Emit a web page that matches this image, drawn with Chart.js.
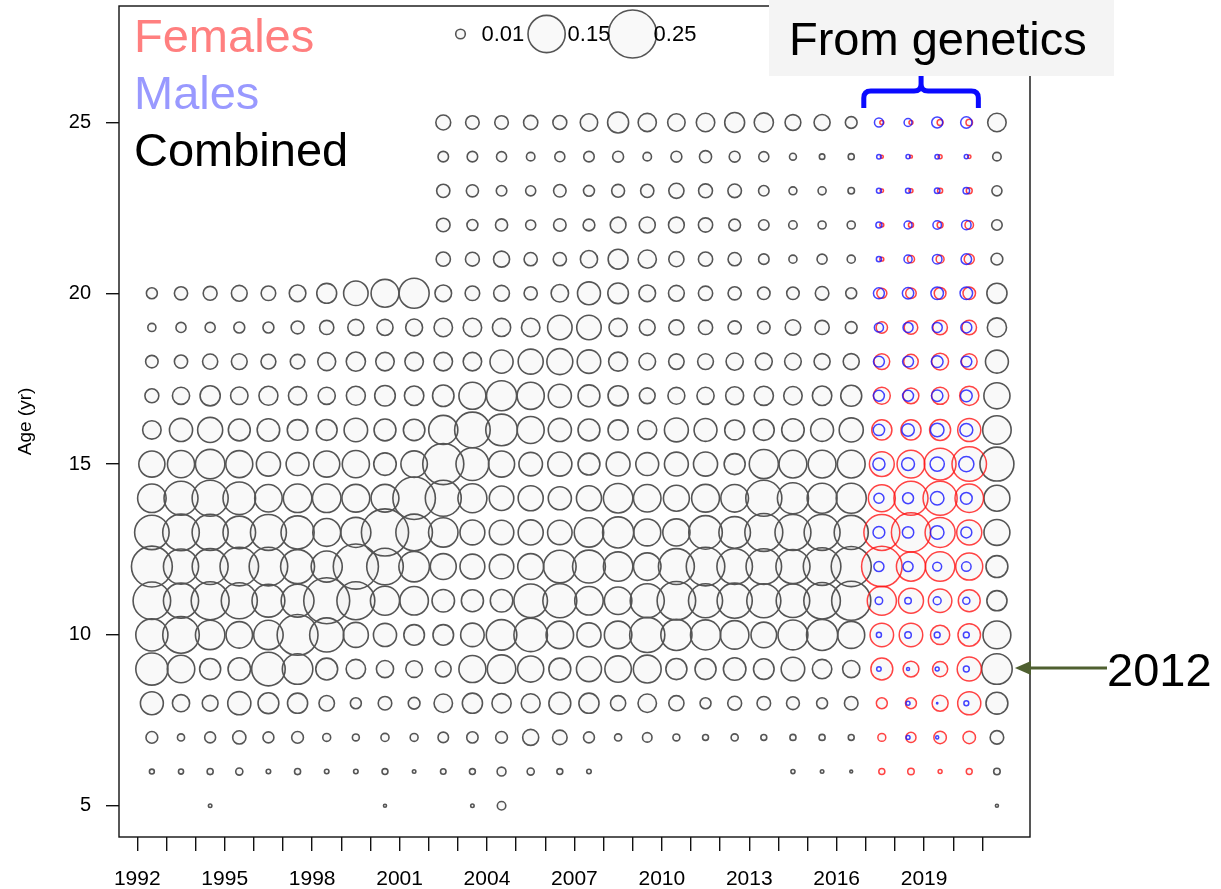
<!DOCTYPE html>
<html>
<head>
<meta charset="utf-8">
<title>Age composition by year</title>
<script src="https://cdn.jsdelivr.net/npm/chart.js@4.4.1/dist/chart.umd.min.js"></script>
<style>
  html, body { margin: 0; padding: 0; background: #ffffff; }
  #wrap { width: 1221px; height: 889px; }
</style>
</head>
<body>
<div id="wrap"><canvas id="chart" width="1221" height="889"></canvas></div>
<script>
// ---- axis values ----
const years = [1992, 1993, 1994, 1995, 1996, 1997, 1998, 1999, 2000, 2001,
               2002, 2003, 2004, 2005, 2006, 2007, 2008, 2009, 2010, 2011,
               2012, 2013, 2014, 2015, 2016, 2017, 2018, 2019, 2020, 2021];
const ages = [5, 6, 7, 8, 9, 10, 11, 12, 13, 14, 15, 16, 17, 18, 19, 20, 21, 22, 23, 24, 25];
const xTickLabels = [1992, 1995, 1998, 2001, 2004, 2007, 2010, 2013, 2016, 2019];
const yTickValues = [5, 10, 15, 20, 25];
const geneticsYears = [2017, 2018, 2019, 2020];
const sizeLegendValues = [0.01, 0.15, 0.25];

// ---- combined proportion at age, one entry per year (1992..2021) ----
const age25 = [null, null, null, null, null, null, null, null, null, null, .024, .020, .020, .022, .021, .033, .048, .036, .033, .037, .043, .040, .027, .028, .015, null, null, null, null, .037];
const age24 = [null, null, null, null, null, null, null, null, null, null, .012, .012, .011, .0078, .011, .012, .013, .0078, .013, .016, .013, .011, .0052, .0033, .004, null, null, null, null, .0078];
const age23 = [null, null, null, null, null, null, null, null, null, null, .019, .016, .012, .011, .017, .013, .018, .019, .025, .021, .020, .012, .0068, .0071, .0046, null, null, null, null, .011];
const age22 = [null, null, null, null, null, null, null, null, null, null, .020, .013, .016, .011, .017, .015, .027, .028, .027, .022, .015, .012, .0078, .0071, .0071, null, null, null, null, .012];
const age21 = [null, null, null, null, null, null, null, null, null, null, .022, .021, .028, .019, .019, .032, .043, .036, .025, .022, .019, .012, .0071, .011, .0071, null, null, null, null, .015];
const age20 = [.013, .019, .021, .027, .023, .030, .043, .065, .084, .098, .030, .023, .027, .019, .033, .057, .046, .030, .027, .022, .019, .017, .017, .020, .013, null, null, null, null, .044];
const age19 = [.0071, .011, .011, .013, .013, .018, .022, .028, .028, .031, .037, .037, .036, .037, .065, .065, .036, .027, .025, .022, .019, .017, .026, .022, .015, null, null, null, null, .040];
const age18 = [.017, .019, .025, .027, .024, .023, .035, .040, .037, .037, .037, .037, .058, .068, .073, .060, .039, .030, .026, .027, .032, .031, .030, .028, .028, null, null, null, null, .057];
const age17 = [.021, .032, .044, .033, .039, .036, .032, .039, .046, .041, .050, .079, .098, .080, .058, .052, .044, .027, .031, .032, .035, .040, .037, .041, .048, null, null, null, null, .074];
const age16 = [.037, .058, .068, .052, .055, .046, .047, .060, .052, .050, .092, .137, .108, .079, .058, .052, .044, .039, .062, .057, .043, .047, .055, .057, .063, null, null, null, null, .088];
const age15 = [.074, .080, .094, .079, .063, .057, .074, .080, .055, .076, .183, .117, .074, .060, .063, .052, .062, .057, .062, .063, .048, .092, .084, .084, .084, null, null, null, null, .125];
const age14 = [.088, .125, .141, .115, .082, .088, .088, .084, .084, .196, .140, .091, .065, .068, .058, .068, .094, .082, .073, .084, .083, .141, .105, .097, .098, null, null, null, null, .073];
const age13 = [.129, .145, .141, .115, .140, .119, .084, .098, .241, .145, .094, .067, .065, .068, .065, .094, .105, .079, .080, .122, .108, .156, .140, .140, .126, null, null, null, null, .073];
const age12 = [.181, .134, .140, .161, .161, .125, .105, .221, .145, .101, .073, .067, .065, .073, .115, .117, .094, .082, .140, .161, .137, .137, .126, .153, .174, null, null, null, null, .052];
const age11 = [.153, .134, .156, .141, .117, .117, .229, .156, .092, .088, .055, .053, .055, .122, .125, .088, .082, .126, .161, .126, .134, .126, .122, .145, .166, null, null, null, null, .044];
const age10 = [.112, .145, .094, .076, .094, .181, .126, .068, .058, .046, .046, .060, .101, .122, .082, .063, .082, .134, .105, .098, .088, .071, .097, .105, .079, null, null, null, null, .084];
const age9  = [.112, .082, .048, .055, .122, .101, .052, .041, .032, .030, .027, .079, .088, .074, .052, .068, .076, .084, .048, .048, .055, .046, .060, .041, .032, null, null, null, null, .101];
const age8  = [.057, .032, .027, .058, .047, .044, .026, .013, .020, .015, .037, .044, .040, .039, .052, .044, .025, .037, .025, .013, .021, .020, .018, .013, .020, null, null, null, null, .052];
const age7  = [.015, .0055, .013, .019, .013, .015, .0068, .0052, .0071, .0068, .012, .014, .015, .028, .023, .013, .0055, .0098, .0052, .0038, .0055, .0038, .004, .004, .0038, null, null, null, null, .020];
const age6  = [.0026, .0028, .004, .0055, .0022, .004, .0022, .0022, .0038, .0013, .0033, .0038, .0086, .0055, .0038, .0022, null, null, null, null, null, null, .0018, .0013, .0009, null, null, null, null, .0046];
const age5  = [null, null, .0013, null, null, null, null, null, .001, null, null, .0013, .0078, null, null, null, null, null, null, null, null, null, null, null, null, null, null, null, null, .001];
const combinedRows = [age5, age6, age7, age8, age9, age10, age11, age12, age13, age14, age15,
                      age16, age17, age18, age19, age20, age21, age22, age23, age24, age25];

// ---- genetic samples, ages 5..25 ----
const females2017 = [null, .004, .0068, .013, .052, .060, .092, .178, .140, .079, .067, .044, .031, .027, .014, .011, .0017, .0017, .0013, .001, .0017];
const females2018 = [null, .0046, .011, .013, .027, .060, .068, .092, .166, .126, .084, .044, .027, .023, .020, .012, .0055, .0028, .0017, .0009, .0017];
const females2019 = [null, .0017, .017, .028, .025, .040, .060, .094, .098, .126, .110, .048, .032, .031, .023, .015, .0068, .0038, .0028, .0017, .0038];
const females2020 = [null, .0038, .017, .058, .063, .055, .052, .079, .068, .088, .129, .058, .040, .027, .023, .017, .011, .0078, .0038, .0013, .0046];
const males2017 = [null, null, null, null, .0022, .0028, .0061, .011, .015, .011, .016, .014, .013, .013, .009, .013, .0028, .004, .0026, .0022, .0086];
const males2018 = [null, null, .0017, .0017, .001, .0046, .0046, .011, .014, .013, .018, .017, .013, .013, .011, .014, .0071, .0068, .0028, .0018, .0068];
const males2019 = [null, null, .001, .0002, .0017, .0038, .0068, .0086, .020, .020, .022, .020, .014, .015, .011, .017, .0098, .0078, .0033, .0022, .013];
const males2020 = [null, null, null, .0026, .0038, .0038, .0055, .0098, .013, .015, .025, .018, .015, .013, .013, .017, .012, .0098, .0046, .0018, .014];
const femaleCols = [females2017, females2018, females2019, females2020];
const maleCols = [males2017, males2018, males2019, males2020];

// ---- drawing settings ----
const FONT = "'Liberation Sans', Arial, Helvetica, sans-serif";
const SIZE = 48;                 // bubble radius (px) for a proportion of 1, area-scaled
const MID_YEAR = 0.5;            // samples are centred inside their year
const SEX_SHIFT = 0.05;          // females drawn slightly right, males slightly left
const radiusOf = v => SIZE * Math.sqrt(v);
const FAINT = 'rgba(0,0,0,0.025)';

function pointsFromRows() {
  const pts = [];
  combinedRows.forEach((row, a) => row.forEach((v, i) => {
    if (v !== null) pts.push({ x: years[i] + MID_YEAR, y: ages[a], v });
  }));
  return pts;
}
function pointsFromCols(cols, shift) {
  const pts = [];
  geneticsYears.forEach((yr, g) => cols[g].forEach((v, a) => {
    if (v !== null) pts.push({ x: yr + MID_YEAR + shift, y: ages[a], v });
  }));
  return pts;
}

Chart.defaults.font.family = FONT;
Chart.defaults.color = '#000';

const decorations = {
  id: 'decorations',
  afterDraw(chart) {
    const ctx = chart.ctx;
    const a = chart.chartArea;
    ctx.save();

    // plot frame
    ctx.strokeStyle = '#111';
    ctx.lineWidth = 1.4;
    ctx.strokeRect(a.left, a.top, a.right - a.left, a.bottom - a.top);

    // colour key
    ctx.font = '47px ' + FONT;
    ctx.textAlign = 'left';
    ctx.textBaseline = 'alphabetic';
    ctx.fillStyle = '#ff7f7f';
    ctx.fillText('Females', a.left + 15, 52);
    ctx.fillStyle = '#9999ff';
    ctx.fillText('Males', a.left + 15, 109);
    ctx.fillStyle = '#000';
    ctx.fillText('Combined', a.left + 15, 166);

    // bubble size key
    const keyX = [460.5, 546.6, 632.6];
    const keyY = 34;
    ctx.font = '22px ' + FONT;
    ctx.textBaseline = 'middle';
    sizeLegendValues.forEach((v, i) => {
      ctx.beginPath();
      ctx.arc(keyX[i], keyY, radiusOf(v), 0, Math.PI * 2);
      ctx.fillStyle = FAINT;
      ctx.fill();
      ctx.strokeStyle = '#555';
      ctx.lineWidth = 1.6;
      ctx.stroke();
    });
    ctx.fillStyle = '#000';
    sizeLegendValues.forEach((v, i) => {
      ctx.fillText(String(v), keyX[i] + 21, keyY + 1);
    });

    // genetics label box
    ctx.fillStyle = '#f4f4f4';
    ctx.fillRect(769, 0, 345, 76);
    ctx.fillStyle = '#000';
    ctx.font = '47px ' + FONT;
    ctx.textBaseline = 'alphabetic';
    ctx.fillText('From genetics', 789, 55);

    // bracket over the genetics years
    const xs = chart.scales.x;
    const bl = xs.getPixelForValue(geneticsYears[0]) - 2;
    const br = xs.getPixelForValue(geneticsYears[geneticsYears.length - 1] + 1) - 4;
    const bm = (bl + br) / 2;
    const by = 91, bb = 108, bt = 76, rr = 7;
    ctx.strokeStyle = '#0a0aff';
    ctx.lineWidth = 5;
    ctx.lineJoin = 'round';
    ctx.beginPath();
    ctx.moveTo(bl, bb);
    ctx.lineTo(bl, by + rr);
    ctx.quadraticCurveTo(bl, by, bl + rr, by);
    ctx.lineTo(bm - rr, by);
    ctx.quadraticCurveTo(bm, by, bm, by - rr);
    ctx.lineTo(bm, bt);
    ctx.moveTo(br, bb);
    ctx.lineTo(br, by + rr);
    ctx.quadraticCurveTo(br, by, br - rr, by);
    ctx.lineTo(bm + rr, by);
    ctx.quadraticCurveTo(bm, by, bm, by - rr);
    ctx.stroke();

    // cohort arrow
    const ys = chart.scales.y;
    const ay = ys.getPixelForValue(9) - 1;
    const tip = xs.getPixelForValue(2021 + MID_YEAR) + 18;
    ctx.strokeStyle = '#4f6030';
    ctx.fillStyle = '#4f6030';
    ctx.lineWidth = 3;
    ctx.beginPath();
    ctx.moveTo(1107, ay);
    ctx.lineTo(tip + 14, ay);
    ctx.stroke();
    ctx.beginPath();
    ctx.moveTo(tip, ay);
    ctx.lineTo(tip + 16, ay - 7);
    ctx.lineTo(tip + 16, ay + 7);
    ctx.closePath();
    ctx.fill();
    ctx.fillStyle = '#000';
    ctx.font = '47px ' + FONT;
    ctx.fillText('2012', 1107, ay + 18);

    ctx.restore();
  }
};

new Chart(document.getElementById('chart'), {
  type: 'bubble',
  data: {
    datasets: [
      {
        label: 'Males',
        data: pointsFromCols(maleCols, -SEX_SHIFT),
        borderColor: 'rgba(20,20,255,0.8)',
        backgroundColor: 'rgba(0,0,0,0)',
        borderWidth: 1.5,
        order: 0
      },
      {
        label: 'Females',
        data: pointsFromCols(femaleCols, SEX_SHIFT),
        borderColor: 'rgba(255,20,20,0.8)',
        backgroundColor: FAINT,
        borderWidth: 1.5,
        order: 1
      },
      {
        label: 'Combined',
        data: pointsFromRows(),
        borderColor: '#555',
        backgroundColor: FAINT,
        borderWidth: 1.6,
        order: 2
      }
    ]
  },
  options: {
    responsive: false,
    devicePixelRatio: 1,
    animation: false,
    events: [],
    layout: { autoPadding: false, padding: { left: 0, top: 6, right: 191, bottom: 0 } },
    elements: {
      point: {
        radius: ctx => (ctx.raw ? radiusOf(ctx.raw.v) : 0),
        hoverRadius: 0,
        hitRadius: 0
      }
    },
    plugins: {
      legend: { display: false },
      tooltip: { enabled: false },
      title: { display: false }
    },
    scales: {
      x: {
        type: 'linear',
        min: 1991.372,
        max: 2022.635,
        afterBuildTicks: s => { s.ticks = years.map(v => ({ value: v })); },
        afterFit: s => { s.height = 52; s.paddingLeft = 0; s.paddingRight = 0; },
        ticks: {
          autoSkip: false,
          maxRotation: 0,
          padding: 16,
          color: '#000',
          font: { size: 21, family: FONT },
          callback: v => (xTickLabels.includes(v) ? String(v) : '')
        },
        grid: { drawOnChartArea: false, drawTicks: true, tickLength: 14, color: '#111', lineWidth: 1.4 },
        border: { display: false }
      },
      y: {
        type: 'linear',
        min: 4.084,
        max: 28.41,
        afterBuildTicks: s => { s.ticks = yTickValues.map(v => ({ value: v })); },
        afterFit: s => { s.width = 119; s.paddingTop = 0; s.paddingBottom = 0; },
        ticks: {
          padding: 15,
          color: '#000',
          font: { size: 20, family: FONT }
        },
        grid: { drawOnChartArea: false, drawTicks: true, tickLength: 13, color: '#111', lineWidth: 1.4 },
        border: { display: false },
        title: {
          display: true,
          text: 'Age (yr)',
          color: '#000',
          font: { size: 19, family: FONT },
          padding: { top: 14, bottom: 0 }
        }
      }
    }
  },
  plugins: [decorations]
});
</script>
</body>
</html>
